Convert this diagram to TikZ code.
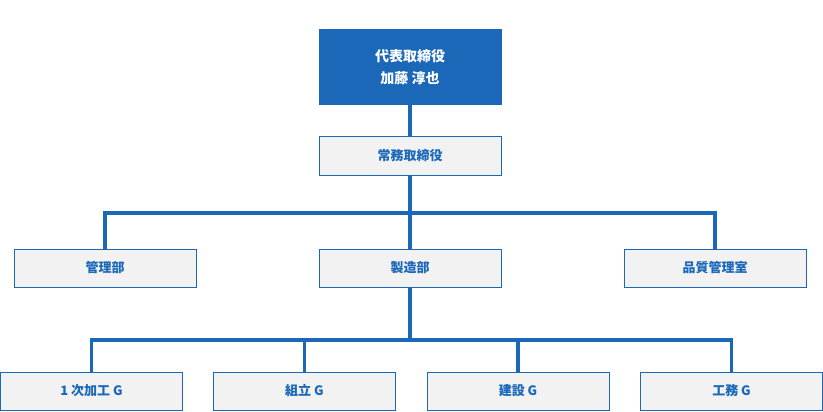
\documentclass[tikz,border=0pt]{standalone}
\usepackage{fontspec}
\setmainfont{Noto Sans CJK JP}
\definecolor{orgblue}{HTML}{1B68B9}
\definecolor{orggray}{HTML}{F2F2F2}
\tikzset{
  unit/.style={draw=orgblue, line width=1pt, fill=orggray, text=orgblue,
    minimum width=182pt, minimum height=38pt, inner sep=0pt,
    font=\fontsize{13}{16}\selectfont\bfseries},
  head/.style={unit, fill=orgblue, text=white, minimum height=75pt, align=center,
    font=\fontsize{14}{22}\selectfont\bfseries},
  link/.style={orgblue, line width=3.5pt}
}
\begin{document}
\begin{tikzpicture}[x=1pt, y=-1pt]
    \useasboundingbox (0,0) rectangle (823,412);
    % Tiers
    \node[head] (ceo) at (410, 67.5) {代表取締役\\加藤 淳也};
    \node[unit] (md) at (410, 156) {常務取締役};
    \node[unit] (kanri) at (105, 268) {管理部};
    \node[unit] (seizo) at (410, 268) {製造部};
    \node[unit] (qa) at (715, 268) {品質管理室};
    \node[unit] (g1) at (91.5, 391) {1 次加工 G};
    \node[unit] (g2) at (304.5, 391) {組立 G};
    \node[unit] (g3) at (518, 391) {建設 G};
    \node[unit] (g4) at (731.5, 391) {工務 G};
    % Branch points
    \coordinate (b1) at (410, 213);
    \coordinate (b2) at (410, 340);
    % Connectors
    \begin{scope}[on background layer/.style={}]
    \draw[link] (ceo) -- (md);
    \draw[link] (md) -- (b1);
    \draw[link] (kanri.north) |- (b1) -| (qa.north);
    \draw[link] (b1) -- (seizo);
    \draw[link] (seizo) -- (b2);
    \draw[link] (g1.north) |- (b2) -| (g4.north);
    \draw[link] (g2.north) -- (g2.north |- b2);
    \draw[link] (g3.north) -- (g3.north |- b2);
    \end{scope}
\end{tikzpicture}
\end{document}
